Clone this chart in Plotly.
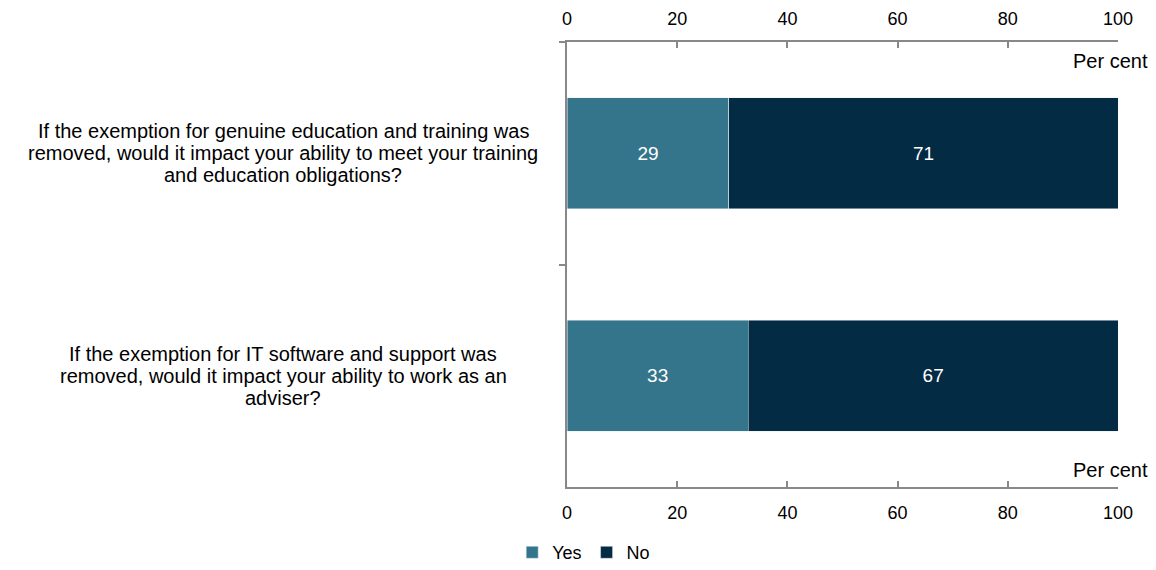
import plotly.graph_objects as go

# question labels, one list of lines per bar
questions = [
    ["If the exemption for genuine education and training was",
     "removed, would it impact your ability to meet your training",
     "and education obligations?"],
    ["If the exemption for IT software and support was",
     "removed, would it impact your ability to work as an",
     "adviser?"],
]
cats = ["q1", "q2"]
yes = [29.4, 32.9]
no = [70.6, 67.1]

AXIS_GREY = "#888888"
FAMILY = "Liberation Sans, Arial, sans-serif"
FONT = dict(family=FAMILY, size=18, color="#000000")
LABEL_FONT = dict(family=FAMILY, size=20, color="#000000")

fig = go.Figure()
fig.add_bar(y=cats, x=yes, name="Yes", orientation="h", marker_color="#34758B",
            text=yes, texttemplate="%{x:.0f}", textposition="inside",
            insidetextanchor="middle", textfont=dict(family=FAMILY, color="white", size=19))
fig.add_bar(y=cats, x=no, name="No", orientation="h", marker_color="#032B44",
            text=no, texttemplate="%{x:.0f}", textposition="inside",
            insidetextanchor="middle", textfont=dict(family=FAMILY, color="white", size=19))
# invisible trace so the top axis gets drawn
fig.add_scatter(x=[0, 100], y=cats, xaxis="x2", mode="markers",
                marker_opacity=0, showlegend=False, hoverinfo="skip")

for lines, c in zip(questions, cats):
    for i, line in enumerate(lines):
        fig.add_annotation(text=line, xref="paper", yref="y", x=-0.515, y=c,
                           xanchor="center", yanchor="middle", yshift=22 * (1 - i),
                           showarrow=False, font=LABEL_FONT)

fig.add_annotation(text="Per cent", xref="paper", yref="paper", x=1, y=0.957,
                   xanchor="center", yanchor="middle", xshift=-8, showarrow=False, font=LABEL_FONT)
fig.add_annotation(text="Per cent", xref="paper", yref="paper", x=1, y=0.038,
                   xanchor="center", yanchor="middle", xshift=-8, showarrow=False, font=LABEL_FONT)

xax = dict(range=[0, 100], dtick=20, showgrid=False, zeroline=False,
           showline=True, linecolor=AXIS_GREY, linewidth=2,
           ticks="inside", ticklen=6, tickwidth=2, tickcolor=AXIS_GREY,
           tickfont=FONT, ticklabelstandoff=8, automargin=False)
fig.update_layout(
    width=1140, height=554, barmode="stack", bargap=0.5,
    plot_bgcolor="white", paper_bgcolor="white", font=FONT,
    margin=dict(l=559, r=30, t=34, b=75),
    xaxis=dict(**xax, side="bottom"),
    xaxis2=dict(**xax, side="top", overlaying="x", matches="x"),
    yaxis=dict(categoryorder="array", categoryarray=cats, autorange="reversed",
               showticklabels=False, showgrid=False, zeroline=False,
               showline=True, linecolor=AXIS_GREY, linewidth=2,
               ticks="outside", ticklen=6, tickwidth=2, tickcolor=AXIS_GREY,
               tickson="boundaries", automargin=False),
    legend=dict(orientation="h", xref="container", yref="container",
                x=0.505, y=0.017, xanchor="center", yanchor="middle",
                font=FONT, traceorder="normal", itemwidth=30),
    showlegend=True,
)

fig.write_html("out.html")
